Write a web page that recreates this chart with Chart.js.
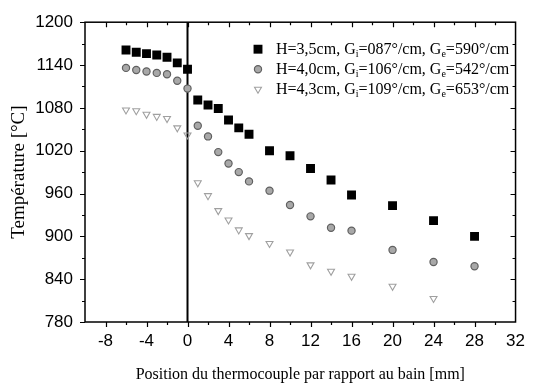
<!DOCTYPE html>
<html><head><meta charset="utf-8">
<script src="https://cdn.jsdelivr.net/npm/chart.js@4.4.1/dist/chart.umd.min.js"></script>
<style>html,body{margin:0;padding:0;background:#fff;}#wrap{width:534px;height:387px;position:relative;}</style>
</head><body><div id="wrap"><canvas id="c" width="534" height="387"></canvas></div>
<script>
const positions1 = [-6,-5,-4,-3,-2,-1,0,1,2,3,4,5,6,8,10,12,14,16,20,24,28];
const temps1 = [1161,1158,1156,1154,1151,1143,1134,1091,1084,1079,1063,1052,1043,1020,1013,995,979,958,943,922,900];
const positions2 = [-6,-5,-4,-3,-2,-1,0,1,2,3,4,5,6,8,10,12,14,16,20,24,28];
const temps2 = [1136,1133,1131,1129,1127,1118,1107,1055,1040,1018,1002,990,977,964,944,928,912,908,881,864,858];
const positions3 = [-6,-5,-4,-3,-2,-1,0,1,2,3,4,5,6,8,10,12,14,16,20,24];
const temps3 = [1077,1076,1071,1068,1065,1052,1042,975,957,936,923,909,901,890,878,860,851,844,830,813];
const legendH = ['3,5','4,0','4,3'];
const legendGi = ['087','106','109'];
const legendGe = ['590','542','653'];
const xTicks = [-8,-4,0,4,8,12,16,20,24,28,32];
const yTicks = [780,840,900,960,1020,1080,1140,1200];
const xTitle = 'Position du thermocouple par rapport au bain [mm]';
const yTitle = 'Température [°C]';
const bathLineX = [0,0];
const bathLineY = [780,1200];

const toPts = (xs, ys) => xs.map((v,i)=>({x:v, y:ys[i]}));

const framePlugin = {
  id:'frame',
  afterDatasetsDraw(chart){
    const {ctx, chartArea:a, scales:{x,y}} = chart;
    ctx.save();
    ctx.strokeStyle='#000';
    ctx.lineWidth=1.5;
    ctx.strokeRect(a.left,a.top,a.right-a.left,a.bottom-a.top);
    ctx.lineWidth=1.2;
    ctx.beginPath();
    const xs=[];
    for(let i=0;i<xTicks.length;i++){ xs.push([xTicks[i],5]); const p = i===0? xTicks[0]-(xTicks[1]-xTicks[0])/2 : (xTicks[i]+xTicks[i-1])/2; xs.push([p,3]); }
    xs.forEach(([v,L])=>{ if(v<=x.min||v>=x.max) return; const px=Math.round(x.getPixelForValue(v))+0.5; ctx.moveTo(px,a.bottom); ctx.lineTo(px,a.bottom+L); ctx.moveTo(px,a.top); ctx.lineTo(px,a.top+L); });
    const ys=[];
    for(let i=0;i<yTicks.length;i++){ ys.push([yTicks[i],5]); if(i>0) ys.push([(yTicks[i]+yTicks[i-1])/2,3]); }
    ys.forEach(([v,L])=>{ const py=Math.round(y.getPixelForValue(v))+0.5; ctx.moveTo(a.left,py); ctx.lineTo(a.left-L,py); if(v>y.min&&v<y.max){ ctx.moveTo(a.right,py); ctx.lineTo(a.right-L,py);} });
    ctx.stroke();
    ctx.restore();
  },
  afterDraw(chart){
    const ctx = chart.ctx;
    const a = chart.chartArea;
    ctx.save();
    const mx = a.left + 173, tx = a.left + 191;
    for(let i=0;i<3;i++){
      const ds = chart.data.datasets[i];
      const cy = a.top + 27 + i*20;
      ctx.fillStyle = ds.pointBackgroundColor;
      ctx.strokeStyle = ds.pointBorderColor;
      ctx.lineWidth = ds.pointBorderWidth;
      Chart.helpers.drawPoint(ctx, {pointStyle: ds.pointStyle, radius: ds.pointRadius, rotation: ds.pointRotation||0, borderWidth: ds.pointBorderWidth}, mx, cy);
      const parts = [['H='+legendH[i]+'cm, G',0],['i',1],['='+legendGi[i]+'°/cm, G',0],['e',1],['='+legendGe[i]+'°/cm',0]];
      let x = tx;
      ctx.fillStyle='#000';
      ctx.textBaseline='alphabetic';
      parts.forEach(([t,sub])=>{
        ctx.font = sub ? '10px "Liberation Serif"' : '16px "Liberation Serif"';
        ctx.fillText(t, x, cy + 5 + (sub?3:0));
        x += ctx.measureText(t).width;
      });
    }
    ctx.restore();
  }
};

new Chart(document.getElementById('c'), {
  type:'scatter',
  data:{ datasets:[
    { label:'H='+legendH[0]+'cm', data:toPts(positions1,temps1), pointStyle:'rect', pointRadius:6.3, pointBackgroundColor:'#000', pointBorderColor:'#000', pointBorderWidth:0, showLine:false },
    { label:'H='+legendH[1]+'cm', data:toPts(positions2,temps2), pointStyle:'circle', pointRadius:3.6, pointBackgroundColor:'#a8a8a8', pointBorderColor:'#606060', pointBorderWidth:1.2, showLine:false },
    { label:'H='+legendH[2]+'cm', data:toPts(positions3,temps3), pointStyle:'triangle', pointRotation:180, pointRadius:4, pointBackgroundColor:'rgba(255,255,255,0)', pointBorderColor:'#a0a0a0', pointBorderWidth:1.1, showLine:false },
    { label:'bain', data:toPts(bathLineX,bathLineY), showLine:true, borderColor:'#000', borderWidth:2, pointRadius:0 }
  ]},
  options:{
    responsive:false, animation:false,
    layout:{ padding:{left:0, top:10, right:14, bottom:0} },
    plugins:{ legend:{display:false}, tooltip:{enabled:false} },
    scales:{
      x:{ type:'linear', min:-10, max:32,
        afterBuildTicks:s=>{ s.ticks = xTicks.map(v=>({value:v})); },
        afterFit:s=>{ s.height = 65; },
        grid:{display:false, drawTicks:false}, border:{display:false},
        ticks:{ padding:9, color:'#000', font:{family:'"Liberation Sans"', size:17}, maxRotation:0, autoSkip:false, callback:v=>String(v) },
        title:{ display:true, text:xTitle, color:'#000', font:{family:'"Liberation Serif"', size:16}, padding:{top:0,bottom:3} }
      },
      y:{ type:'linear', min:780, max:1200,
        afterBuildTicks:s=>{ s.ticks = yTicks.map(v=>({value:v})); },
        afterFit:s=>{ s.width = 85; },
        grid:{display:false, drawTicks:false}, border:{display:false},
        ticks:{ padding:12, color:'#000', font:{family:'"Liberation Sans"', size:17}, autoSkip:false, callback:v=>String(v) },
        title:{ display:true, text:yTitle, color:'#000', font:{family:'"Liberation Serif"', size:19}, padding:{top:8,bottom:0} }
      }
    }
  },
  plugins:[framePlugin]
});
</script></body></html>
